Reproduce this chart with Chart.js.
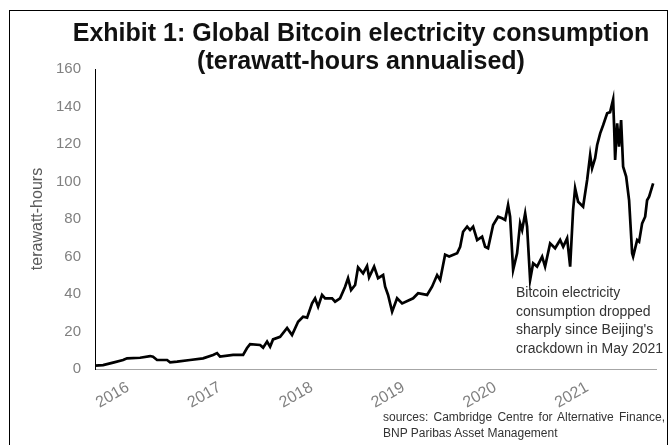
<!DOCTYPE html>
<html>
<head>
<meta charset="utf-8">
<script src="https://cdn.jsdelivr.net/npm/chart.js@4/dist/chart.umd.min.js"></script>
<style>
  body { margin: 0; background: #fff; }
  #wrap { position: relative; width: 670px; height: 445px; overflow: hidden; font-family: "Liberation Sans", Arial, sans-serif; }
  #chart { position: absolute; left: 0; top: 0; }
  #frame { position: absolute; left: 9px; top: 10px; width: 657px; height: 450px; border: 1px solid #000; pointer-events: none; }
  #title { position: absolute; left: 61px; top: 18px; width: 600px; text-align: center; font-weight: bold; font-size: 25px; line-height: 28px; color: #111; }
  #note { position: absolute; left: 516px; top: 283px; font-size: 14px; line-height: 18.7px; color: #333; white-space: pre; }
  #src { position: absolute; left: 383px; top: 409px; font-size: 12px; line-height: 16px; color: #333; }
  #src .l1 { width: 282px; text-align: justify; text-align-last: justify; }
</style>
</head>
<body>
<div id="wrap">
  <canvas id="chart" width="670" height="445"></canvas>
  <div id="frame"></div>
  <div id="title">Exhibit 1: Global Bitcoin electricity consumption<br>(terawatt-hours annualised)</div>
  <div id="note">Bitcoin electricity
consumption dropped
sharply since Beijing's
crackdown in May 2021</div>
  <div id="src"><div class="l1">sources: Cambridge Centre for Alternative Finance,</div><div>BNP Paribas Asset Management</div></div>
</div>
<script>
// dates as decimal years (TWh annualised)
const dates = [
  2015.640, 2015.728, 2015.837, 2015.946, 2015.989, 2016.131, 2016.240, 2016.272, 2016.316, 2016.425,
  2016.458, 2016.534, 2016.675, 2016.817, 2016.926, 2016.969, 2017.002, 2017.144, 2017.253, 2017.296,
  2017.329, 2017.438, 2017.471, 2017.514, 2017.547, 2017.579, 2017.656, 2017.732, 2017.786, 2017.852,
  2017.906, 2017.950, 2018.004, 2018.037, 2018.070, 2018.113, 2018.146, 2018.222, 2018.255, 2018.309,
  2018.364, 2018.396, 2018.429, 2018.473, 2018.505, 2018.560, 2018.603, 2018.625, 2018.680, 2018.723,
  2018.778, 2018.800, 2018.832, 2018.876, 2018.930, 2018.985, 2019.105, 2019.159, 2019.257, 2019.311,
  2019.366, 2019.399, 2019.453, 2019.497, 2019.584, 2019.617, 2019.649, 2019.693, 2019.725, 2019.758,
  2019.802, 2019.856, 2019.889, 2019.921, 2019.976, 2020.030, 2020.074, 2020.107, 2020.139, 2020.161,
  2020.194, 2020.237, 2020.270, 2020.292, 2020.325, 2020.346, 2020.379, 2020.412, 2020.455, 2020.510,
  2020.542, 2020.597, 2020.651, 2020.706, 2020.739, 2020.782, 2020.815, 2020.847, 2020.869, 2020.902,
  2020.956, 2021.000, 2021.033, 2021.054, 2021.087, 2021.109, 2021.142, 2021.174, 2021.218, 2021.250,
  2021.283, 2021.294, 2021.305, 2021.327, 2021.348, 2021.370, 2021.392, 2021.425, 2021.457, 2021.490,
  2021.501, 2021.545, 2021.566, 2021.599, 2021.632, 2021.653, 2021.675, 2021.719
];
const twh = [
  1.8, 2.1, 3.4, 4.8, 5.7, 6.0, 6.9, 6.5, 4.8, 4.8,
  3.6, 3.9, 4.8, 5.7, 7.5, 8.5, 6.6, 7.5, 7.5, 11.2,
  13.3, 12.8, 11.4, 14.6, 11.9, 15.8, 17.2, 21.9, 18.1, 25.2,
  27.9, 27.4, 35.0, 37.7, 33.2, 39.5, 37.7, 37.7, 35.9, 37.7,
  43.9, 48.4, 42.1, 44.8, 54.2, 51.0, 54.9, 48.9, 54.6, 48.4,
  50.1, 43.9, 39.5, 30.6, 37.7, 35.0, 37.7, 40.4, 39.5, 43.9,
  50.1, 47.5, 61.0, 60.0, 61.7, 65.2, 73.2, 75.9, 74.1, 75.9,
  68.8, 70.6, 65.2, 64.4, 76.8, 81.2, 80.4, 79.5, 87.5, 81.2,
  52.8, 61.7, 77.7, 74.1, 83.0, 75.9, 47.5, 56.4, 54.6, 59.9,
  54.6, 67.0, 64.4, 68.8, 65.2, 69.7, 54.6, 84.8, 96.4, 89.2,
  86.6, 100.8, 114.1, 107.0, 112.4, 119.5, 125.7, 130.0, 136.4, 137.0,
  143.8, 129.0, 111.5, 131.0, 118.6, 132.8, 107.9, 102.6, 90.0, 61.7,
  59.9, 68.8, 67.9, 77.7, 81.2, 90.0, 91.9, 99.0
];
const yearTicks = [2016, 2017, 2018, 2019, 2020, 2021];
const yTicks = [0, 20, 40, 60, 80, 100, 120, 140, 160];

Chart.defaults.font.family = '"Liberation Sans", Arial, sans-serif';

const points = dates.map((d, i) => ({ x: d, y: twh[i] }));

new Chart(document.getElementById('chart'), {
  type: 'line',
  data: {
    datasets: [{
      label: 'Bitcoin electricity consumption',
      data: points,
      borderColor: '#000',
      borderWidth: 2.7,
      pointRadius: 0,
      tension: 0,
      fill: false
    }]
  },
  options: {
    responsive: false,
    animation: false,
    devicePixelRatio: 1,
    layout: { padding: { top: 69, right: 14, left: 0, bottom: 0 } },
    plugins: { legend: { display: false }, tooltip: { enabled: false } },
    scales: {
      x: {
        type: 'linear',
        min: 2015.64,
        max: 2021.75,
        grid: { display: false, drawTicks: false },
        border: { color: '#a6a6a6', width: 1 },
        afterBuildTicks: s => { s.ticks = yearTicks.map(v => ({ value: v })); },
        afterFit: s => { s.height = 76; },
        ticks: {
          autoSkip: false,
          minRotation: 30,
          maxRotation: 30,
          padding: 9,
          color: '#808080',
          font: { size: 16 },
          callback: v => String(v)
        }
      },
      y: {
        min: 0,
        max: 160,
        grid: { display: false, drawTicks: false },
        border: { color: '#000', width: 1 },
        afterBuildTicks: s => { s.ticks = yTicks.map(v => ({ value: v })); },
        afterFit: s => { s.width = 95; },
        title: {
          display: true,
          text: 'terawatt-hours',
          color: '#595959',
          font: { size: 16 },
          padding: { top: 28, bottom: 0 }
        },
        ticks: {
          padding: 14,
          color: '#808080',
          font: { size: 15 }
        }
      }
    }
  }
});
</script>
</body>
</html>
